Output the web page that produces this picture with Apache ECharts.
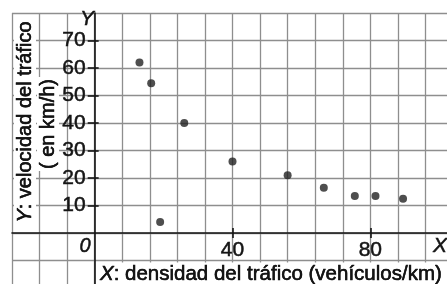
<!DOCTYPE html>
<html>
<head>
<meta charset="utf-8">
<script src="https://cdn.jsdelivr.net/npm/echarts@6/dist/echarts.min.js"></script>
<style>
  html, body { margin: 0; padding: 0; background: #fff; }
  #chart { width: 447px; height: 284px; }
</style>
</head>
<body>
<div id="chart"></div>
<script>
// datos
const densidad = [13, 16.4, 19, 26, 40, 56, 66.5, 75.5, 81.5, 89.5];
const velocidad = [62, 54.5, 4, 40, 26, 21, 16.5, 13.5, 13.5, 12.5];
const xTicks = [40, 80];
const yTicks = [10, 20, 30, 40, 50, 60, 70];

const FONT = "'Liberation Sans', Arial, sans-serif";
const INK = '#141414';
const BOLDEN = 0.5; // trazo fino para engrosar un poco el texto
const points = densidad.map((d, i) => [d, velocidad[i]]);

const chart = echarts.init(document.getElementById('chart'));

const X_MIN = -24, X_MAX = 104, Y_MIN = -20, Y_MAX = 80;
const G_LEFT = 12, G_TOP = 13, G_W = 441, G_H = 275;
// desplazamiento de los ejes hasta el origen
const X_OFF = -(G_H * (0 - Y_MIN) / (Y_MAX - Y_MIN));
const Y_OFF = -(G_W * (0 - X_MIN) / (X_MAX - X_MIN));

const gridLine = { show: true, lineStyle: { color: '#8e8e8e', width: 1.3 } };
const axisInk = { color: INK, width: 1.6 };
const hidden = { show: false };
const labelStyle = {
    color: INK, fontFamily: FONT, fontSize: 21,
    textBorderColor: INK, textBorderWidth: BOLDEN
};

function xAxisBase(extra) {
    return Object.assign({
        type: 'value', min: X_MIN, max: X_MAX, interval: 8,
        axisLine: { show: false, onZero: false },
        axisTick: hidden, axisLabel: hidden, splitLine: hidden
    }, extra);
}
function yAxisBase(extra) {
    return Object.assign({
        type: 'value', min: Y_MIN, max: Y_MAX, interval: 10,
        axisLine: { show: false, onZero: false },
        axisTick: hidden, axisLabel: hidden, splitLine: hidden
    }, extra);
}

function txt(font) {
    return { font: font + ' ' + FONT, fill: INK, stroke: INK, lineWidth: BOLDEN };
}

// titulo con caja blanca debajo y el mismo texto engrosado encima
function title(x, y, rotation, text, rich, align) {
    const base = { text: text, textAlign: align, textVerticalAlign: 'middle', padding: [1, 2, 1, 2] };
    const plainRich = {}, boldRich = {};
    Object.keys(rich).forEach(k => {
        plainRich[k] = { font: rich[k] + ' ' + FONT, fill: INK };
        boldRich[k] = { font: rich[k] + ' ' + FONT, fill: INK, stroke: INK, lineWidth: BOLDEN };
    });
    return [
        { type: 'text', x: x, y: y, rotation: rotation, z: 10,
          style: Object.assign({}, base, { backgroundColor: '#fff', rich: plainRich }) },
        { type: 'text', x: x, y: y, rotation: rotation, z: 11,
          style: Object.assign({}, base, { rich: boldRich }) }
    ];
}

chart.setOption({
    animation: false,
    grid: { left: G_LEFT, top: G_TOP, width: G_W, height: G_H, containLabel: false, outerBoundsMode: 'none' },
    xAxis: [
        xAxisBase({ splitLine: gridLine }),
        xAxisBase({
            position: 'bottom', offset: X_OFF,
            axisLine: { show: true, onZero: false, lineStyle: axisInk },
            axisTick: { show: true, customValues: xTicks, length: 5, lineStyle: axisInk },
            axisLabel: Object.assign({ show: true, customValues: xTicks, margin: 7 }, labelStyle)
        }),
        xAxisBase({
            position: 'bottom', offset: X_OFF,
            axisTick: { show: true, inside: true, customValues: xTicks, length: 5, lineStyle: axisInk }
        })
    ],
    yAxis: [
        yAxisBase({ splitLine: gridLine }),
        yAxisBase({
            position: 'left', offset: Y_OFF,
            axisLine: { show: true, onZero: false, lineStyle: axisInk },
            axisTick: { show: true, customValues: yTicks, length: 7, lineStyle: axisInk },
            axisLabel: Object.assign({ show: true, customValues: yTicks, margin: 9 }, labelStyle)
        }),
        yAxisBase({
            position: 'left', offset: Y_OFF,
            axisTick: { show: true, inside: true, customValues: yTicks, length: 4, lineStyle: axisInk }
        })
    ],
    graphic: [
        {
            type: 'text', x: 87, y: 19, z: 10,
            style: Object.assign({ text: 'Y', textAlign: 'center', textVerticalAlign: 'middle' }, txt('italic 21px'))
        },
        {
            type: 'text', x: 85, y: 246, z: 10,
            style: Object.assign({ text: '0', textAlign: 'center', textVerticalAlign: 'middle' }, txt('italic 20px'))
        },
        {
            type: 'text', x: 440, y: 246, z: 10,
            style: Object.assign({ text: 'X', textAlign: 'center', textVerticalAlign: 'middle' }, txt('italic 21px'))
        }
    ].concat(
        title(98, 274, 0, '{i|X}{t|: densidad del tráfico (vehículos/km)}',
              { i: 'italic 20.5px', t: '20.5px' }, 'left'),
        title(25, 122, Math.PI / 2, '{i|Y}{t|: velocidad del tráfico}',
              { i: 'italic 20px', t: '20px' }, 'center'),
        title(48, 124, Math.PI / 2, '{t|( en km/h)}', { t: '20px' }, 'center')
    ),
    series: [{
        type: 'scatter',
        data: points,
        symbolSize: 8,
        itemStyle: { color: '#222' }
    }]
});
</script>
</body>
</html>
